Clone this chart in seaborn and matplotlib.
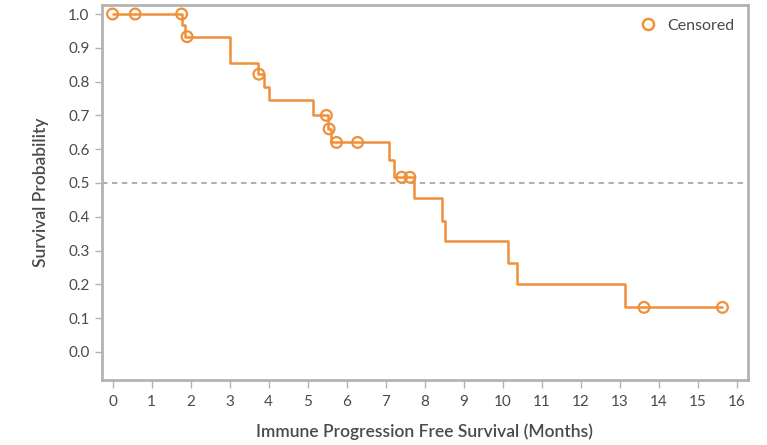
import numpy as np
import pandas as pd
import matplotlib
matplotlib.use("Agg")
import matplotlib.pyplot as plt
import seaborn as sns
from matplotlib.lines import Line2D

# Kaplan-Meier step function (time in months, survival probability)
step_times = [0, 1.78, 1.86, 3.0, 3.74, 3.88, 4.02, 5.14, 5.52, 5.60,
              7.09, 7.21, 7.73, 8.43, 8.51, 10.14, 10.37, 13.13, 15.63]
step_surv = [1.0, 0.967, 0.933, 0.856, 0.822, 0.785, 0.746, 0.700, 0.660, 0.620,
             0.568, 0.517, 0.455, 0.388, 0.329, 0.262, 0.200, 0.132, 0.132]
# Censored observation times
censor_times = [0, 0.58, 1.77, 1.91, 3.75, 5.48, 5.55, 5.74, 6.28, 7.41, 7.62, 13.62, 15.63]

x_ticks = list(range(0, 17))
y_ticks = [0.0, 0.1, 0.2, 0.3, 0.4, 0.5, 0.6, 0.7, 0.8, 0.9, 1.0]
median_line = 0.5

ORANGE = "#f0903a"
GRAY = "#b3b3b3"
TXT = "#4a4a4a"

sns.set_theme(style="white")
plt.rcParams["font.family"] = ["Lato", "DejaVu Sans"]

steps = pd.DataFrame({"time": step_times, "surv": step_surv})
idx = np.searchsorted(np.array(step_times), np.array(censor_times), side="right") - 1
cens = pd.DataFrame({"time": censor_times, "surv": np.array(step_surv)[idx]})

fig = plt.figure(figsize=(7.67, 4.45), dpi=100)
ax = fig.add_axes([0.133, 0.146, 0.842, 0.843])

ax.axhline(median_line, color="#a8a8a8", lw=1.3, ls=(0, (3, 2.5)), zorder=1)
sns.lineplot(data=steps, x="time", y="surv", drawstyle="steps-post",
             color=ORANGE, lw=1.8, ax=ax, zorder=3)
sns.scatterplot(data=cens, x="time", y="surv", marker="o", s=60,
                facecolors="none", edgecolor=ORANGE, linewidth=1.6, ax=ax, zorder=4)

ax.set_xlim(-0.27, 16.28)
ax.set_ylim(-0.083, 1.027)
ax.set_xticks(x_ticks)
ax.set_xticklabels([str(v) for v in x_ticks])
ax.set_yticks(y_ticks)
ax.set_yticklabels([f"{v:.1f}" for v in y_ticks])

for s in ax.spines.values():
    s.set_visible(True)
    s.set_color(GRAY)
    s.set_linewidth(2)

ax.tick_params(axis="x", bottom=True, direction="out", length=6, width=1, color=GRAY,
               labelsize=11, labelcolor=TXT, pad=4.5)
ax.tick_params(axis="y", left=True, direction="out", length=5, width=1, color=GRAY,
               labelsize=11, labelcolor=TXT, pad=4)

ax.set_xlabel("Immune Progression Free Survival (Months)", fontsize=12.5,
              color=TXT, fontweight="semibold", labelpad=11)
ax.set_ylabel("Survival Probability", fontsize=12.5, color=TXT,
              fontweight="semibold", labelpad=14)

handle = Line2D([], [], marker="o", ls="none", markerfacecolor="none",
                markeredgecolor=ORANGE, markeredgewidth=1.8, markersize=8)
ax.legend([handle], ["Censored"], loc="upper right", frameon=False,
          fontsize=11.5, handletextpad=0.2, borderaxespad=0.45, labelcolor=TXT)

fig.savefig("out.png", dpi=100)
